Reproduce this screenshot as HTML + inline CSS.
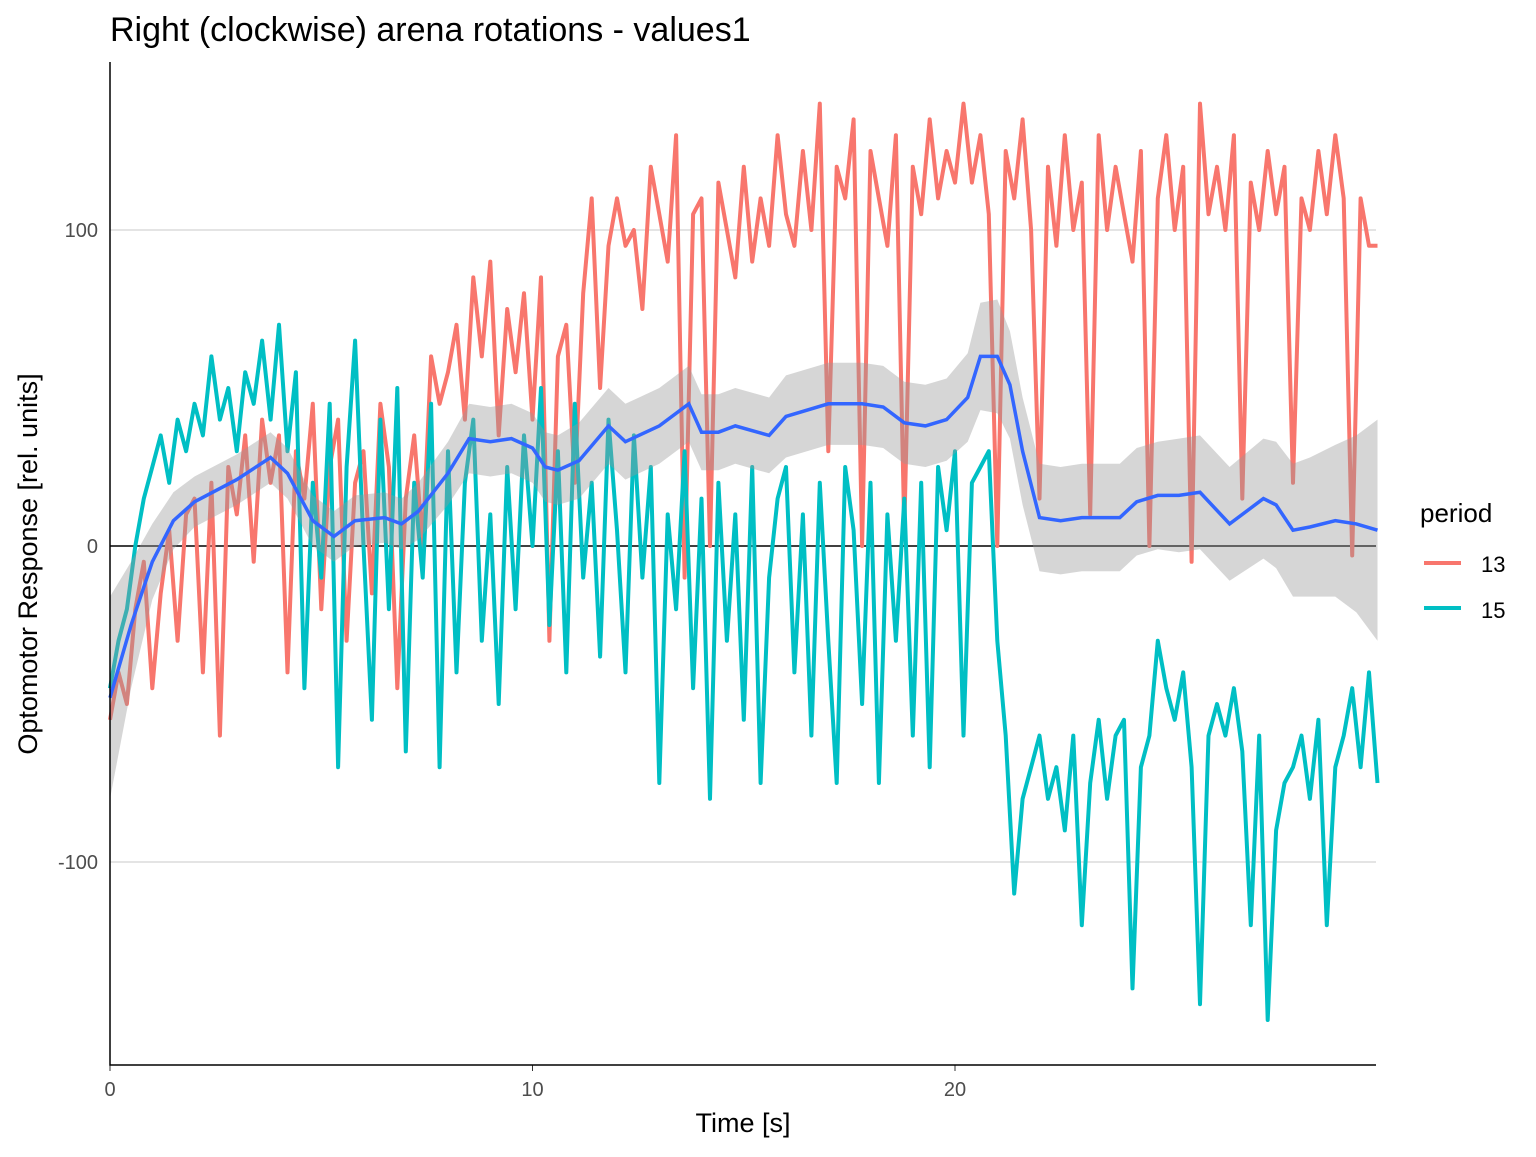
<!DOCTYPE html>
<html><head><meta charset="utf-8"><style>
body{margin:0;background:#fff;}
svg text{font-family:"Liberation Sans",Arial,sans-serif;}
</style></head><body>
<svg id="chart" width="1536" height="1152" xmlns="http://www.w3.org/2000/svg">
<rect width="1536" height="1152" fill="#fff"/>
<g id="grid"></g>
<g id="series"></g>
<g id="axes"></g>
<text x="110" y="41" font-size="34" fill="#000">Right (clockwise) arena rotations - values1</text>
<text x="743" y="1132" font-size="27" text-anchor="middle" fill="#000">Time [s]</text>
<text transform="translate(37,564) rotate(-90)" font-size="27" text-anchor="middle" fill="#000">Optomotor Response [rel. units]</text>
<g>
<text x="1420" y="522" font-size="26" fill="#000">period</text>
<line x1="1424" y1="563" x2="1461" y2="563" stroke="#F8766D" stroke-width="4"/>
<text x="1481" y="572" font-size="22" fill="#000">13</text>
<line x1="1424" y1="608" x2="1461" y2="608" stroke="#00BFC4" stroke-width="4"/>
<text x="1481" y="618" font-size="22" fill="#000">15</text>
</g>
</svg>
<script>
const red13 = [-55,-40,-50,-20,-5,-45,-15,5,-30,10,
15,-40,20,-60,25,10,35,-5,40,20,
35,-40,30,15,45,-20,25,40,-30,20,
30,-15,45,25,-45,15,35,0,60,45,
55,70,40,85,60,90,35,75,55,80,
40,85,-30,60,70,20,80,110,50,95,
110,95,100,75,120,105,90,130,-10,105,
110,0,115,100,85,120,90,110,95,130,
105,95,125,100,140,30,120,110,135,0,
125,110,95,130,5,120,105,135,110,125,
115,140,115,130,105,0,125,110,135,100,
15,120,95,130,100,115,10,130,100,120,
105,90,125,0,110,130,100,120,-5,140,
105,120,100,130,15,115,100,125,105,120,
20,110,100,125,105,130,110,-3,110,95,95];
const cyan15 = [-45,-30,-20,0,15,25,35,20,40,30,
45,35,60,40,50,30,55,45,65,40,
70,30,55,-45,20,-10,45,-70,25,65,
0,-55,40,-20,50,-65,20,-10,45,-70,
30,-40,20,40,-30,10,-50,25,-20,35,
0,50,-25,30,-40,45,-10,20,-35,40,
5,-40,35,-10,25,-75,10,-20,30,-45,
15,-80,20,-30,10,-55,25,-75,-10,15,
25,-40,10,-60,20,-30,-75,25,5,-50,
20,-75,10,-30,15,-60,20,-70,25,5,
30,-60,20,25,30,-30,-60,-110,-80,-70,
-60,-80,-70,-90,-60,-120,-75,-55,-80,-60,
-55,-140,-70,-60,-30,-45,-55,-40,-70,-145,
-60,-50,-60,-45,-65,-120,-60,-150,-90,-75,
-70,-60,-80,-55,-120,-70,-60,-45,-70,-40,-75];
const timeStep = 0.2;
const smoothT = [0,0.5,1,1.5,2,3,3.8,4.2,4.8,5.3,5.8,6.5,6.9,7.3,8,8.5,9,9.5,10,10.3,10.6,11.1,11.8,12.2,13,13.7,14,14.4,14.8,15.6,16,17,17.8,18.3,18.8,19.3,19.8,20.3,20.6,21,21.3,21.6,22,22.5,23,23.9,24.3,24.8,25.3,25.8,26.5,27.3,27.6,28,28.4,29,29.5,30];
const smoothY = [-48,-25,-5,8,14,21,28,23,8,3,8,9,7,11,23,34,33,34,31,25,24,27,38,33,38,45,36,36,38,35,41,45,45,44,39,38,40,47,60,60,51,30,9,8,9,9,14,16,16,17,7,15,13,5,6,8,7,5];
const smoothSE = [32,20,12,9,8,8,8,8,8,8,8,8,8,9,10,11,11,11,11,11,11,12,12,12,12,12,12,12,12,12,13,13,13,13,13,13,13,14,17,18,17,17,17,17,17,17,17,17,18,18,18,19,20,21,22,24,28,35];
const yTicks = [-100,0,100];
const xTicks = [0,10,20];

const X0=110,X1=1376,Y0=62,Y1=1065;
const xs=t=>110+t*42.25;
const ys=v=>546-v*3.16;
const NS='http://www.w3.org/2000/svg';
function mk(tag,attrs,parent){const e=document.createElementNS(NS,tag);for(const k in attrs)e.setAttribute(k,attrs[k]);parent.appendChild(e);return e;}
const grid=document.getElementById('grid'),series=document.getElementById('series'),axes=document.getElementById('axes');
yTicks.forEach(v=>{
  if(v!==0){const l=mk('line',{x1:X0,x2:X1,y1:ys(v),y2:ys(v),stroke:'#c8c8c8','stroke-width':1},grid);
  
  }
  const t=mk('text',{x:X0-12,y:ys(v)+7,'font-size':20,'text-anchor':'end',fill:'#4d4d4d'},axes);
  t.textContent=String(v);
  
  
});
xTicks.forEach(v=>{
  const t=mk('text',{x:xs(v),y:X0+986,'font-size':20,'text-anchor':'middle',fill:'#4d4d4d'},axes);
  t.textContent=String(v);
  
  
  const k=mk('line',{x1:xs(v),x2:xs(v),y1:Y1,y2:Y1+6,stroke:'#333','stroke-width':1},axes);
  
  
});
const zl=mk('line',{x1:X0,x2:X1,y1:ys(0),y2:ys(0),stroke:'#000','stroke-width':1.5},grid);


function path(arr,color,name){
  const d=arr.map((v,i)=>(i?'L':'M')+xs(i*timeStep).toFixed(1)+','+ys(v).toFixed(1)).join('');
  const p=mk('path',{d:d,fill:'none',stroke:color,'stroke-width':4,'stroke-linejoin':'round'},series);
  
  
}
path(red13,'#F8766D','series-13-line');
path(cyan15,'#00BFC4','series-15-line');
let up=smoothT.map((t,i)=>xs(t).toFixed(1)+','+ys(smoothY[i]+smoothSE[i]).toFixed(1));
let dn=smoothT.map((t,i)=>xs(t).toFixed(1)+','+ys(smoothY[i]-smoothSE[i]).toFixed(1)).reverse();
const rb=mk('path',{d:'M'+up.join('L')+'L'+dn.join('L')+'Z',fill:'#999','fill-opacity':0.4},series);


const sm=mk('path',{d:smoothT.map((t,i)=>(i?'L':'M')+xs(t).toFixed(1)+','+ys(smoothY[i]).toFixed(1)).join(''),fill:'none',stroke:'#3366FF','stroke-width':3.5},series);


const ax=mk('path',{d:`M${X0},${Y0}L${X0},${Y1}L${X1},${Y1}`,fill:'none',stroke:'#000','stroke-width':1.5},axes);


</script>
</body></html>
